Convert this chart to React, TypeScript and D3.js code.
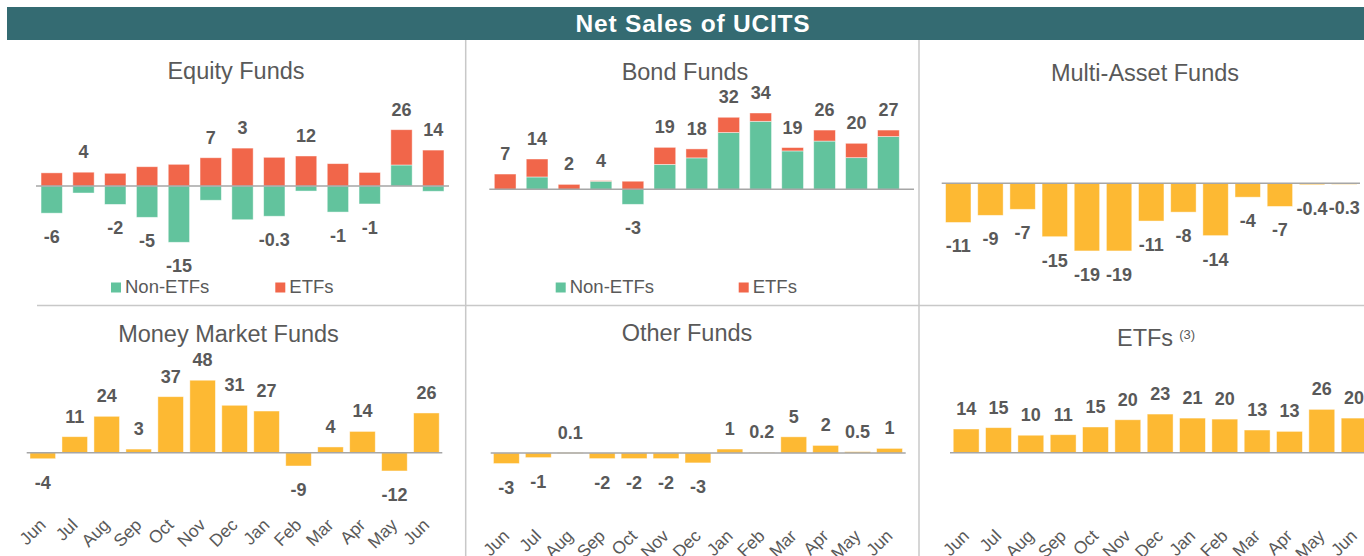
import React from "react";
import * as d3 from "d3";

const months = ["Jun", "Jul", "Aug", "Sep", "Oct", "Nov", "Dec", "Jan", "Feb", "Mar", "Apr", "May", "Jun"];

const equityNonEtf = [-12.4, -3.2, -8.4, -14.3, -25.7, -6.5, -15.4, -13.8, -2.3, -11.9, -8.2, 9.6, -2.4];
const equityEtf = [6.0, 6.3, 5.8, 8.8, 9.9, 12.9, 17.3, 13.1, 13.7, 10.2, 6.2, 16.1, 16.4];
const equityLabels = ["-6", "4", "-2", "-5", "-15", "7", "3", "-0.3", "12", "-1", "-1", "26", "14"];

const bondNonEtf = [0, 5.5, 0, 3.6, -6.7, 11.1, 14.0, 25.3, 30.3, 17.1, 21.5, 14.1, 23.5];
const bondEtf = [6.8, 8.0, 2.2, 0.3, 3.6, 7.6, 4.0, 6.8, 3.7, 1.5, 4.9, 6.4, 2.9];
const bondLabels = ["7", "14", "2", "4", "-3", "19", "18", "32", "34", "19", "26", "20", "27"];

const multiAsset = [-11.0, -9.0, -7.3, -15.0, -19.0, -19.0, -10.6, -8.1, -14.7, -3.9, -6.5, -0.4, -0.3];
const multiLabels = ["-11", "-9", "-7", "-15", "-19", "-19", "-11", "-8", "-14", "-4", "-7", "-0.4", "-0.3"];

const moneyMarket = [-4.0, 10.6, 24.1, 2.4, 37.1, 48.0, 31.4, 27.6, -8.8, 3.8, 14.1, -12.1, 26.3];
const moneyLabels = ["-4", "11", "24", "3", "37", "48", "31", "27", "-9", "4", "14", "-12", "26"];

const otherFunds = [-3.2, -1.4, 0.1, -1.7, -1.7, -1.7, -3.0, 1.2, 0.2, 4.9, 2.3, 0.4, 1.4];
const otherLabels = ["-3", "-1", "0.1", "-2", "-2", "-2", "-3", "1", "0.2", "5", "2", "0.5", "1"];

const etfFunds = [14.1, 14.9, 10.4, 10.7, 15.3, 19.6, 23.0, 20.6, 20.0, 13.5, 12.7, 25.8, 20.6];
const etfLabels = ["14", "15", "10", "11", "15", "20", "23", "21", "20", "13", "13", "26", "20"];

const legendKeys = ["Non-ETFs", "ETFs"];

const FONT = "'Liberation Sans', Arial, Helvetica, sans-serif";
const TXT = "#595959";
const GREEN = "#62c39d";
const RED = "#f1664a";
const YELLOW = "#fdb933";
const AXIS = "#a6a6a6";
const GRID = "#c8c8c8";

type Cfg = {
  title: string;
  titleX: number;
  titleY: number;
  x0: number;
  x1: number;
  pad: number;
  zero: number;
  ppu: number;
  axisX0: number;
  axisX1: number;
  single?: number[];
  non?: number[];
  etf?: number[];
  labels: string[];
  monthsY?: number;
  legend?: { x1: number; x2: number; y: number };
  sup?: string;
};

function Panel({ cfg }: { cfg: Cfg }) {
  const idx = d3.range(months.length);
  const x = d3
    .scaleBand<number>()
    .domain(idx)
    .range([cfg.x0, cfg.x1])
    .paddingInner(cfg.pad)
    .paddingOuter(cfg.pad / 2);
  const y = d3
    .scaleLinear()
    .domain([0, 10])
    .range([cfg.zero, cfg.zero - 10 * cfg.ppu]);
  const bw = x.bandwidth();

  const bars: { key: string; i: number; y0: number; y1: number; fill: string }[] = [];
  const extents: { top: number; bottom: number }[] = idx.map(() => ({ top: y(0), bottom: y(0) }));

  if (cfg.single) {
    cfg.single.forEach((v, i) => {
      const a = y(0);
      const b = y(v);
      bars.push({ key: "s", i, y0: Math.min(a, b), y1: Math.max(a, b), fill: YELLOW });
      extents[i] = { top: Math.min(a, b), bottom: Math.max(a, b) };
    });
  } else if (cfg.non && cfg.etf) {
    const rows = idx.map((i) => ({ non: cfg.non![i], etf: cfg.etf![i] }));
    const series = d3
      .stack<{ non: number; etf: number }>()
      .keys(["non", "etf"])
      .offset(d3.stackOffsetDiverging)(rows);
    series.forEach((s) => {
      s.forEach((d, i) => {
        const a = y(d[0]);
        const b = y(d[1]);
        const t = Math.min(a, b);
        const bt = Math.max(a, b);
        bars.push({ key: s.key, i, y0: t, y1: bt, fill: s.key === "non" ? GREEN : RED });
        extents[i] = {
          top: Math.min(extents[i].top, t),
          bottom: Math.max(extents[i].bottom, bt),
        };
      });
    });
  }

  return (
    <g>
      <text
        x={cfg.titleX}
        y={cfg.titleY}
        textAnchor="middle"
        fontFamily={FONT}
        fontSize={23.5}
        fill={TXT}
      >
        {cfg.title}
        {cfg.sup ? (
          <tspan fontSize={13} dy={-7} dx={6}>
            {cfg.sup}
          </tspan>
        ) : null}
      </text>
      {bars.map((b, k) => (
        <rect
          key={k}
          x={x(b.i)!}
          y={b.y0}
          width={bw}
          height={Math.max(0.6, b.y1 - b.y0)}
          fill={b.fill}
          stroke="#ffffff"
          strokeOpacity={0.55}
          strokeWidth={0.8}
        />
      ))}
      <line x1={cfg.axisX0} x2={cfg.axisX1} y1={y(0)} y2={y(0)} stroke={AXIS} strokeWidth={1.4} />
      {cfg.labels.map((l, i) => {
        const neg = parseFloat(l) < 0;
        const cx = x(i)! + bw / 2;
        const ty = neg ? extents[i].bottom + 30 : extents[i].top - 14;
        return (
          <text
            key={"l" + i}
            x={cx}
            y={ty}
            textAnchor="middle"
            fontFamily={FONT}
            fontWeight="bold"
            fontSize={18}
            fill={TXT}
          >
            {l}
          </text>
        );
      })}
      {cfg.monthsY !== undefined
        ? months.map((m, i) => {
            const cx = x(i)! + bw / 2 + 4;
            return (
              <text
                key={"m" + i}
                x={cx}
                y={cfg.monthsY}
                textAnchor="end"
                fontFamily={FONT}
                fontSize={17.5}
                fill={TXT}
                transform={`rotate(-45 ${cx} ${cfg.monthsY})`}
              >
                {m}
              </text>
            );
          })
        : null}
      {cfg.legend ? (
        <g>
          <rect x={cfg.legend.x1} y={cfg.legend.y - 10.5} width={10} height={10} fill={GREEN} />
          <text x={cfg.legend.x1 + 14} y={cfg.legend.y} fontFamily={FONT} fontSize={18.5} fill={TXT}>
            {legendKeys[0]}
          </text>
          <rect x={cfg.legend.x2} y={cfg.legend.y - 10.5} width={10} height={10} fill={RED} />
          <text x={cfg.legend.x2 + 14} y={cfg.legend.y} fontFamily={FONT} fontSize={18.5} fill={TXT}>
            {legendKeys[1]}
          </text>
        </g>
      ) : null}
    </g>
  );
}

const panels: Cfg[] = [
  {
    title: "Equity Funds",
    titleX: 236,
    titleY: 79,
    x0: 35.8,
    x1: 449.2,
    pad: 0.33,
    zero: 186,
    ppu: 2.19,
    axisX0: 36,
    axisX1: 449,
    non: equityNonEtf,
    etf: equityEtf,
    labels: equityLabels,
    legend: { x1: 111, x2: 275.3, y: 293 },
  },
  {
    title: "Bond Funds",
    titleX: 685,
    titleY: 80,
    x0: 489.2,
    x1: 904.4,
    pad: 0.32,
    zero: 189.3,
    ppu: 2.244,
    axisX0: 489.3,
    axisX1: 914,
    non: bondNonEtf,
    etf: bondEtf,
    labels: bondLabels,
    legend: { x1: 555.7, x2: 738.7, y: 293 },
  },
  {
    title: "Multi-Asset Funds",
    titleX: 1145,
    titleY: 80.7,
    x0: 942.2,
    x1: 1360.3,
    pad: 0.21,
    zero: 183.3,
    ppu: 3.56,
    axisX0: 941.7,
    axisX1: 1360,
    single: multiAsset,
    labels: multiLabels,
  },
  {
    title: "Money Market Funds",
    titleX: 228.5,
    titleY: 341.7,
    x0: 26.8,
    x1: 442.4,
    pad: 0.2,
    zero: 452.7,
    ppu: 1.51,
    axisX0: 26.7,
    axisX1: 442.3,
    single: moneyMarket,
    labels: moneyLabels,
    monthsY: 526,
  },
  {
    title: "Other Funds",
    titleX: 687,
    titleY: 340.7,
    x0: 490.4,
    x1: 905.5,
    pad: 0.19,
    zero: 453,
    ppu: 3.3,
    axisX0: 490.7,
    axisX1: 905.7,
    single: otherFunds,
    labels: otherLabels,
    monthsY: 537,
  },
  {
    title: "ETFs",
    titleX: 1156,
    titleY: 346,
    x0: 950,
    x1: 1370.3,
    pad: 0.2,
    zero: 452.7,
    ppu: 1.68,
    axisX0: 950,
    axisX1: 1364,
    single: etfFunds,
    labels: etfLabels,
    monthsY: 537,
    sup: "(3)",
  },
];

export default function App() {
  return (
    <svg
      width={1364}
      height={556}
      style={{ position: "absolute", left: 0, top: 0, background: "#ffffff", overflow: "hidden" }}
    >
      <rect x={0} y={0} width={1364} height={556} fill="#ffffff" />
      <rect x={7} y={7} width={1357} height={33} fill="#346b72" />
      <text
        x={693}
        y={31.5}
        textAnchor="middle"
        fontFamily={FONT}
        fontWeight="bold"
        fontSize={24.5}
        letterSpacing={0.8}
        fill="#ffffff"
      >
        Net Sales of UCITS
      </text>
      <line x1={465.7} x2={465.7} y1={40} y2={556} stroke={GRID} strokeWidth={1.5} />
      <line x1={919} x2={919} y1={40} y2={556} stroke={GRID} strokeWidth={1.5} />
      <line x1={37} x2={1364} y1={305.5} y2={305.5} stroke={GRID} strokeWidth={1.5} />
      {panels.map((p, i) => (
        <Panel key={i} cfg={p} />
      ))}
    </svg>
  );
}
